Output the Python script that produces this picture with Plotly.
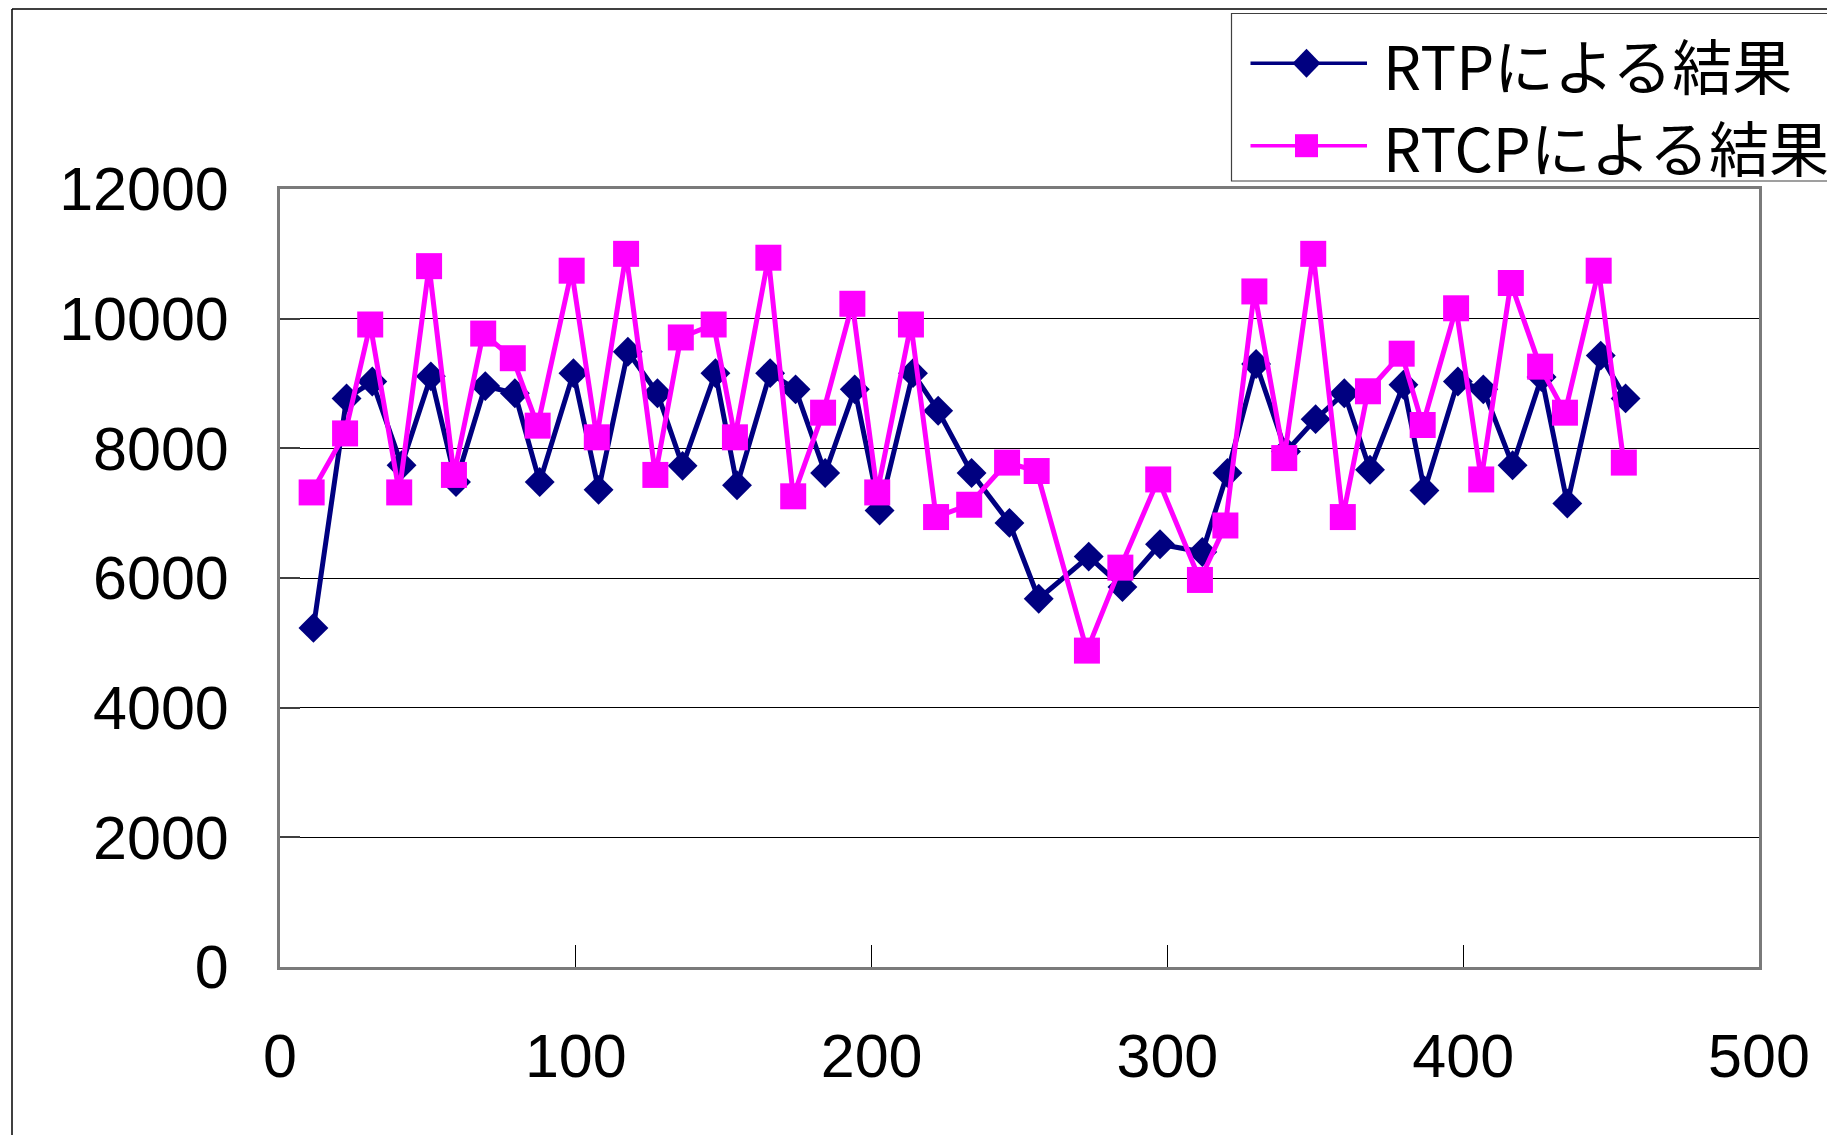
import plotly.graph_objects as go

# ---- data ----
x_rtp = [11.3, 22.5, 31.2, 41.1, 51.0, 59.5, 69.4, 79.4, 87.8, 99.2,
         107.7, 117.6, 127.6, 136.1, 147.2, 154.5, 165.7, 174.3, 184.3, 194.3,
         202.7, 214.0, 222.5, 233.8, 246.6, 256.5, 273.4, 284.8, 297.5, 311.8,
         320.3, 330.0, 340.1, 350.1, 359.8, 368.5, 379.8, 386.9, 398.2, 406.8,
         416.7, 426.5, 435.2, 446.5, 454.9]
y_rtp = [5230, 8770, 9030, 7740, 9110, 7480, 8960, 8850, 7480, 9160,
         7360, 9490, 8850, 7730, 9160, 7430, 9160, 8910, 7620, 8910,
         7040, 9160, 8580, 7620, 6850, 5680, 6330, 5860, 6520, 6400,
         7620, 9300, 7950, 8450, 8850, 7670, 8980, 7350, 9030, 8910,
         7740, 9100, 7150, 9430, 8770]
x_rtcp = [10.7, 22.0, 30.5, 40.3, 50.4, 58.8, 68.7, 78.7, 87.1, 98.6,
          107.1, 117.0, 126.9, 135.5, 146.6, 153.8, 165.1, 173.5, 183.6, 193.5,
          201.9, 213.3, 221.8, 233.0, 245.8, 255.8, 272.8, 284.1, 296.9, 311.0,
          319.6, 329.4, 339.5, 349.3, 359.3, 367.8, 379.2, 386.3, 397.6, 406.1,
          416.1, 426.0, 434.4, 445.8, 454.3]
y_rtcp = [7320, 8230, 9910, 7320, 10810, 7590, 9770, 9390, 8350, 10740,
          8170, 11000, 7590, 9710, 9910, 8170, 10940, 7260, 8550, 10230,
          7320, 9910, 6940, 7130, 7780, 7650, 4880, 6160, 7520, 5970,
          6810, 10420, 7850, 11000, 6940, 8880, 9460, 8360, 10160, 7520,
          10550, 9260, 8550, 10740, 7780]

series_names = ["RTPによる結果", "RTCPによる結果"]
x_ticks = [0, 100, 200, 300, 400, 500]
y_ticks = [0, 2000, 4000, 6000, 8000, 10000, 12000]

NAVY = "#000080"
MAGENTA = "#FF00FF"

OFF = 8  # page body margin
W, H = 1835 - OFF, 1135 - OFF
# plot area in page pixels: x 280..1759, y 189..967
L, T = 280 - OFF, 189 - OFF
R = W - (1759 - OFF)
B = H - (967 - OFF)
PW, PH = W - L - R, H - T - B


def px(x):
    return (x - OFF - L) / PW


def py(y):
    return (H - B - (y - OFF)) / PH


fig = go.Figure()
fig.add_trace(go.Scatter(
    x=x_rtp, y=y_rtp, name=series_names[0], mode="lines+markers",
    line=dict(color=NAVY, width=5),
    marker=dict(symbol="diamond", size=23, color=NAVY),
    cliponaxis=False, showlegend=False))
fig.add_trace(go.Scatter(
    x=x_rtcp, y=y_rtcp, name=series_names[1], mode="lines+markers",
    line=dict(color=MAGENTA, width=5),
    marker=dict(symbol="square", size=26, color=MAGENTA),
    cliponaxis=False, showlegend=False))

tick_font = dict(family="Liberation Sans, Arial, sans-serif", size=61, color="black")

fig.update_xaxes(
    range=[0, 500], tickvals=x_ticks, ticktext=[str(v) for v in x_ticks],
    showgrid=False, zeroline=False,
    showline=True, mirror=True, linecolor="#7a7a7a", linewidth=3,
    ticks="inside", ticklen=22, tickwidth=1, tickcolor="black",
    tickfont=tick_font, ticklabelstandoff=34)
fig.update_yaxes(
    range=[0, 12000], tickvals=y_ticks, ticktext=[str(v) for v in y_ticks],
    showgrid=True, gridcolor="black", gridwidth=1, zeroline=False,
    showline=True, mirror=True, linecolor="#7a7a7a", linewidth=3,
    ticks="inside", ticklen=20, tickwidth=2, tickcolor="#404040",
    tickfont=tick_font, ticklabelstandoff=36)

shapes = []
# outer chart border (left and top edges visible)
shapes.append(dict(type="line", xref="paper", yref="paper",
                   x0=px(12), x1=px(12), y0=py(9), y1=py(1300),
                   line=dict(color="black", width=1.5)))
shapes.append(dict(type="line", xref="paper", yref="paper",
                   x0=px(12), x1=px(1950), y0=py(9), y1=py(9),
                   line=dict(color="black", width=1.5)))
# legend box
shapes.append(dict(type="rect", xref="paper", yref="paper",
                   x0=px(1231.5), x1=px(1950), y0=py(181), y1=py(13.5),
                   line=dict(color="#404040", width=1.2), fillcolor="white"))
leg_y = [63.3, 145.7]
colors = [NAVY, MAGENTA]
for yy, c in zip(leg_y, colors):
    shapes.append(dict(type="line", xref="paper", yref="paper",
                       x0=px(1250.5), x1=px(1367), y0=py(yy), y1=py(yy),
                       line=dict(color=c, width=3.5)))
# legend markers
shapes.append(dict(type="path", xref="paper", yref="paper",
                   xsizemode="pixel", ysizemode="pixel",
                   xanchor=px(1306.5), yanchor=py(leg_y[0]),
                   path="M -14 0 L 0 14.5 L 14 0 L 0 -14.5 Z",
                   fillcolor=NAVY, line=dict(width=0)))
shapes.append(dict(type="rect", xref="paper", yref="paper",
                   xsizemode="pixel", ysizemode="pixel",
                   xanchor=px(1306.5), yanchor=py(leg_y[1]),
                   x0=-11.5, x1=11.5, y0=-11.5, y1=11.5,
                   fillcolor=MAGENTA, line=dict(width=0)))

annotations = []
for yy, name in zip(leg_y, series_names):
    annotations.append(dict(
        xref="paper", yref="paper", x=px(1381), y=py(yy),
        xanchor="left", yanchor="middle", showarrow=False, text=name,
        font=dict(family="Noto Sans CJK JP", size=60, color="black")))

fig.update_layout(
    width=W, height=H,
    margin=dict(l=L, r=R, t=T, b=B, autoexpand=False),
    paper_bgcolor="white", plot_bgcolor="white",
    shapes=shapes, annotations=annotations, showlegend=False)

fig.write_html("out.html")
